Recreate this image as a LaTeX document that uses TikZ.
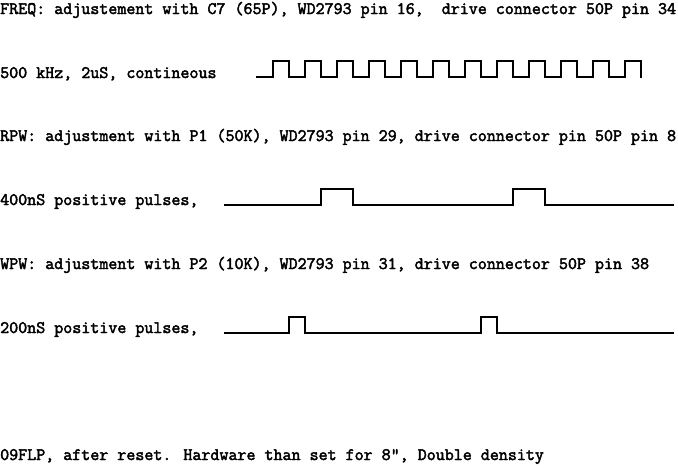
\documentclass[tikz,border=0pt]{standalone}
\usepackage{fontspec}
\newfontfamily\monofnt[FakeBold=2.5]{Latin Modern Mono}
\tikzset{
  lbl/.style={anchor=base west, inner sep=0pt, font=\monofnt\fontsize{17.5pt}{17.5pt}\selectfont},
  wave/.style={line width=1.1pt, line join=miter, line cap=rect}
}
\begin{document}
\begin{tikzpicture}[x=1pt,y=1pt]
\useasboundingbox (0,0) rectangle (678,-467);
\node[lbl] (freq) at (0,-14) {FREQ: adjustement with C7 (65P), WD2793 pin 16,\ \ drive connector 50P pin 34};
\node[lbl] (f500) at (0,-78) {500 kHz, 2uS, contineous};
\node[lbl] (rpw) at (0,-141) {RPW: adjustment with P1 (50K), WD2793 pin 29, drive connector pin 50P pin 8};
\node[lbl] (r400) at (0,-205) {400nS positive pulses,};
\node[lbl] (wpw) at (0,-269) {WPW: adjustment with P2 (10K), WD2793 pin 31, drive connector 50P pin 38};
\node[lbl] (w200) at (0,-333) {200nS positive pulses,};
\node[lbl] (flp) at (0,-460) {09FLP, after reset. Hardware than set for 8", Double density};
% 500 kHz square wave
\draw[wave] (257,-77) -- (273,-77)
  \foreach \k in {0,...,10} { -- ++(0,16) -- ++(16,0) -- ++(0,-16) -- ++(16,0) }
  -- ++(0,16) -- ++(16,0) -- ++(0,-16);
% RPW pulses
\draw[wave] (225,-205) -- (321,-205) -- (321,-189) -- (353,-189) -- (353,-205)
  -- (513,-205) -- (513,-189) -- (545,-189) -- (545,-205) -- (673,-205);
% WPW pulses
\draw[wave] (225,-333) -- (289,-333) -- (289,-317) -- (305,-317) -- (305,-333)
  -- (481,-333) -- (481,-317) -- (497,-317) -- (497,-333) -- (673,-333);
\end{tikzpicture}
\end{document}
